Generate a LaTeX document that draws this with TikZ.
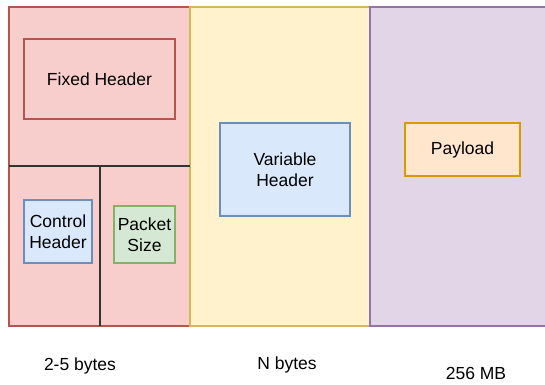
\documentclass[tikz,border=0pt]{standalone}
\usepackage{fontspec}
\setmainfont{Liberation Sans}
\usepackage{tikz}
\usepackage{xcolor}
\usetikzlibrary{positioning}
\definecolor{redfill}{HTML}{F8CECC}
\definecolor{redline}{HTML}{B85450}
\definecolor{yellowfill}{HTML}{FFF2CC}
\definecolor{yellowline}{HTML}{D6B656}
\definecolor{purplefill}{HTML}{E1D5E7}
\definecolor{purpleline}{HTML}{9673A6}
\definecolor{bluefill}{HTML}{DAE8FC}
\definecolor{blueline}{HTML}{6C8EBF}
\definecolor{greenfill}{HTML}{D5E8D4}
\definecolor{greenline}{HTML}{82B366}
\definecolor{orangefill}{HTML}{FFE6CC}
\definecolor{orangeline}{HTML}{D79B00}

\begin{document}
\begin{tikzpicture}[x=1pt, y=-1pt, line width=1.3pt,
        col/.style = {draw, rectangle, inner sep=0pt},
        part/.style = {draw, rectangle, inner sep=0pt, align=center, font=\fontsize{17.5}{21.5}\selectfont},
        size/.style = {font=\fontsize{17.5}{21.5}\selectfont}]
        \useasboundingbox (0,0) rectangle (545,384);
        % the three columns of the packet
        \node[col, fill=redfill, draw=redline, minimum width=181pt, minimum height=319pt] (c_fixed) at (99.5,166.5) {};
        \node[col, fill=yellowfill, draw=yellowline, minimum width=180pt, minimum height=319pt] (c_var) at (280,166.5) {};
        \node[col, fill=purplefill, draw=purpleline, minimum width=180pt, minimum height=319pt] (c_pay) at (460,166.5) {};
        
        % dividers inside the fixed header column
        \coordinate (d_left) at (9,166);
        \coordinate (d_right) at (190,166);
        \coordinate (d_mid) at (100,166);
        \coordinate (d_bottom) at (100,326);
        \draw[black!80] (d_left) -- (d_right);
        \draw[black!80] (d_mid) -- (d_bottom);
        
        \node[part, fill=redfill, draw=redline, minimum width=151pt, minimum height=80pt] (n_fixed) at (99.5,79) {Fixed Header};
        \node[part, fill=bluefill, draw=blueline, minimum width=68pt, minimum height=63pt] (n_ctrl) at (58,231.5) {Control\\Header};
        \node[part, fill=greenfill, draw=greenline, minimum width=61pt, minimum height=57pt] (n_size) at (144.5,234.5) {Packet\\Size};
        \node[part, fill=bluefill, draw=blueline, minimum width=130pt, minimum height=93pt] (n_var) at (285,169.5) {Variable\\Header};
        \node[part, fill=orangefill, draw=orangeline, minimum width=115pt, minimum height=53pt] (n_pay) at (462.5,149.5) {Payload};
        
        % sizes below the columns
        \node[size] (s_fixed) at (80,366) {2-5 bytes};
        \node[size] (s_var) at (287,365) {N bytes};
        \node[size] (s_pay) at (476,373) {256 MB};
      \end{tikzpicture}
\end{document}
